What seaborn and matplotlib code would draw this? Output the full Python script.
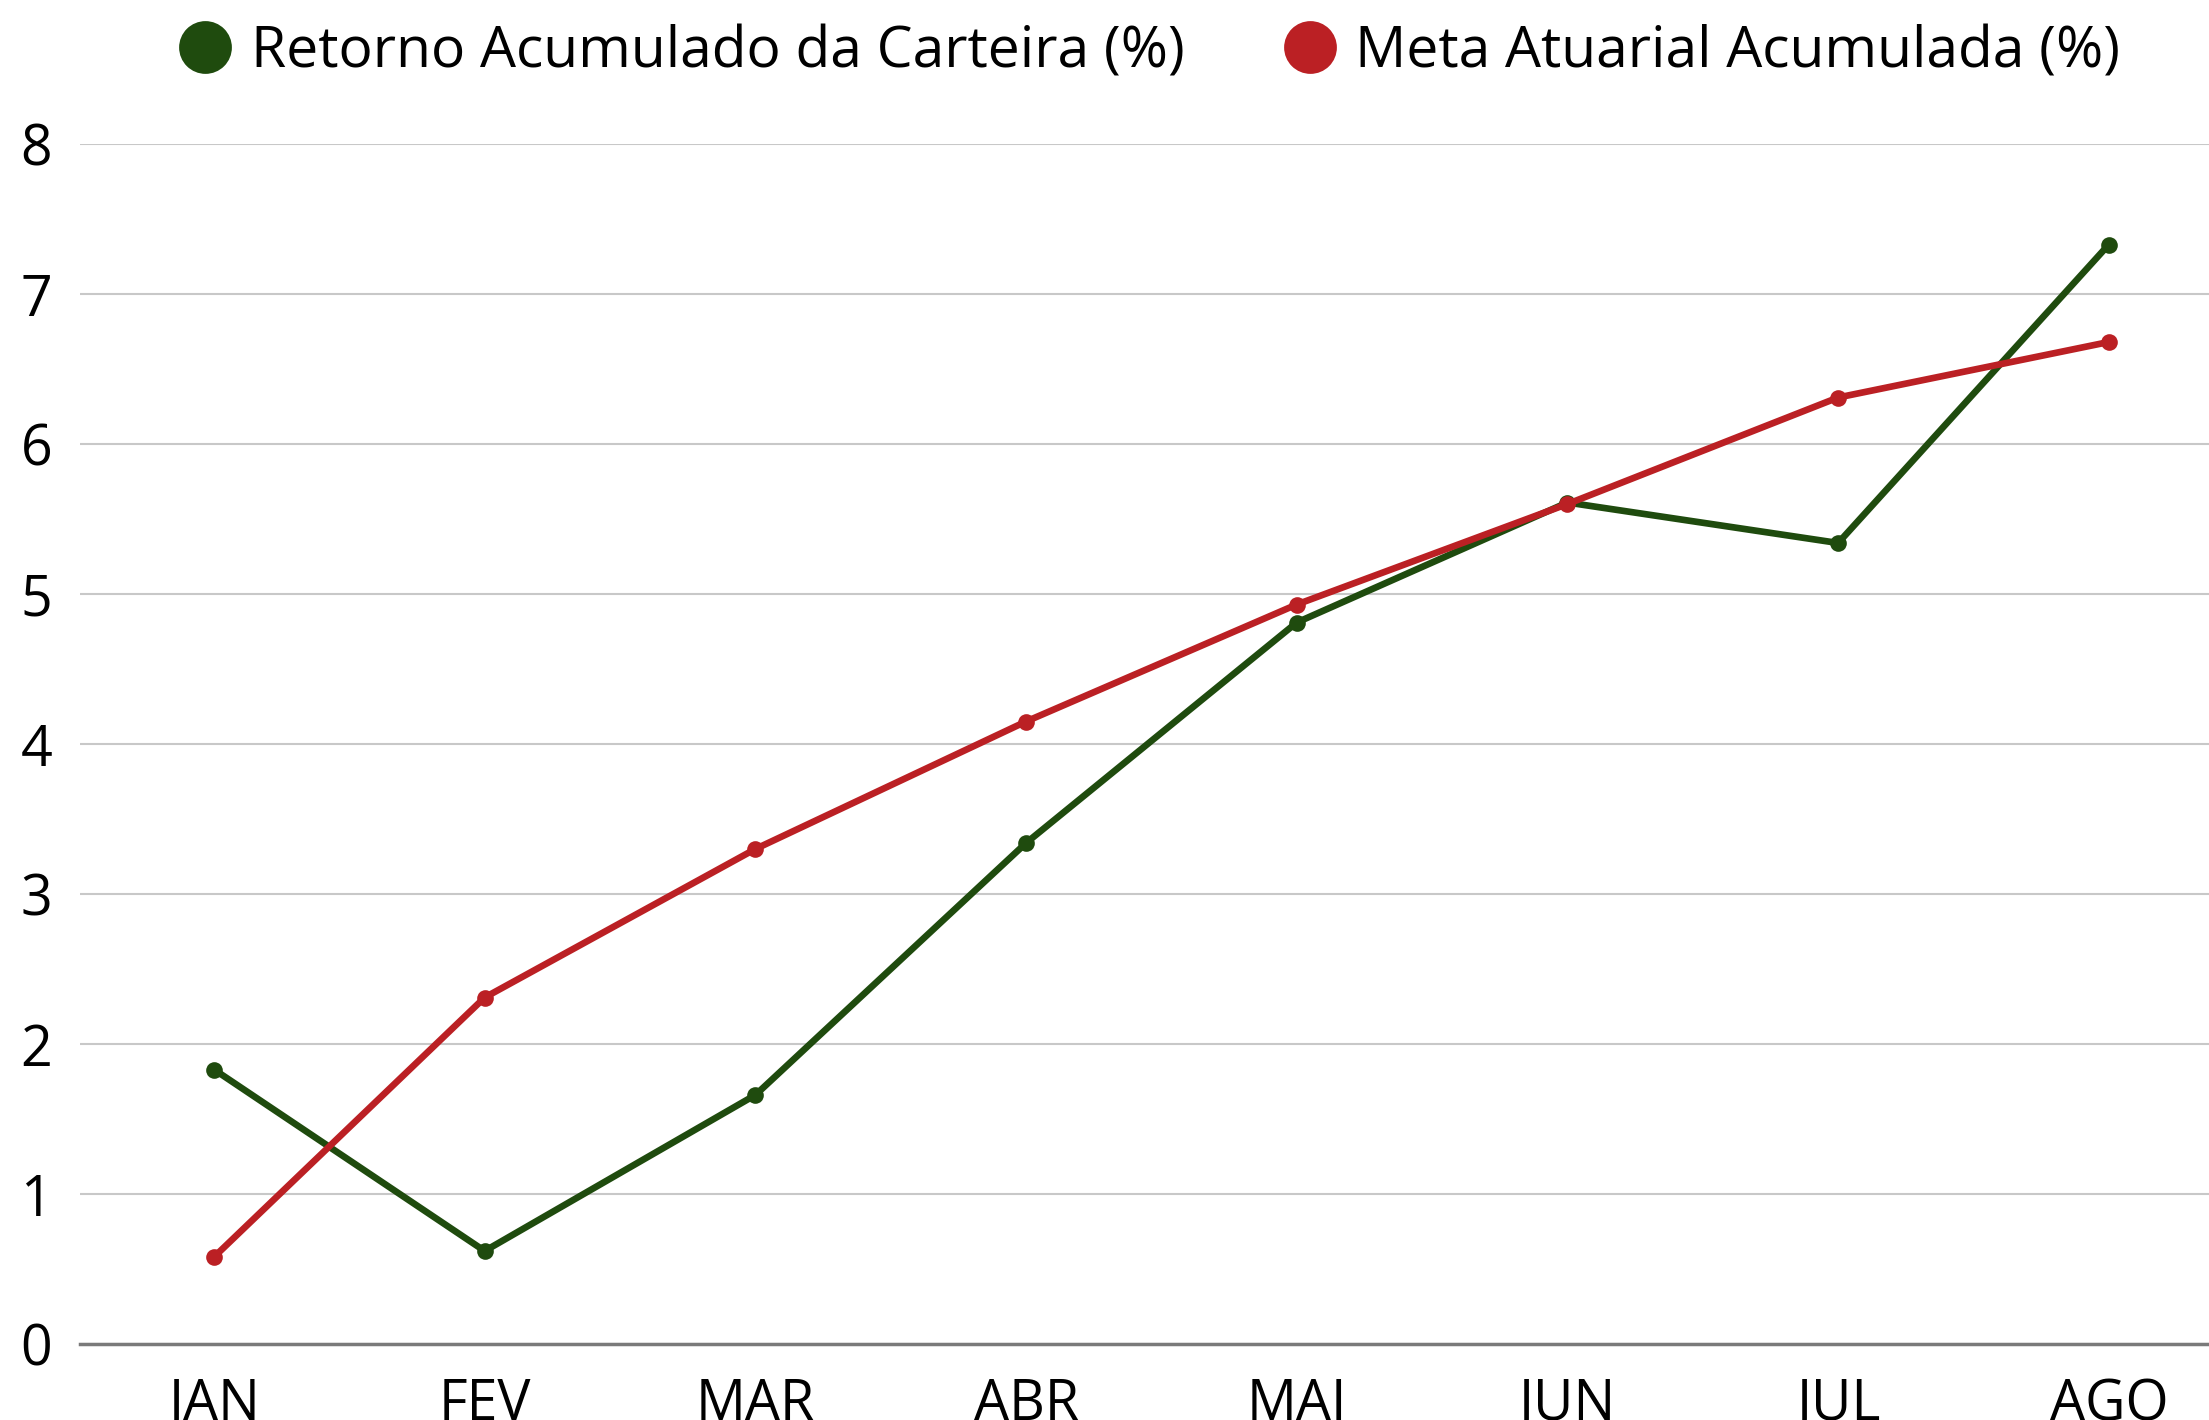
import matplotlib
matplotlib.use("Agg")
import matplotlib.pyplot as plt
from matplotlib.lines import Line2D
import pandas as pd
import seaborn as sns

meses = ["JAN", "FEV", "MAR", "ABR", "MAI", "JUN", "JUL", "AGO"]
retorno_carteira = [1.83, 0.62, 1.66, 3.34, 4.81, 5.61, 5.34, 7.33]
meta_atuarial = [0.58, 2.31, 3.30, 4.15, 4.93, 5.60, 6.31, 6.68]

serie_retorno = "Retorno Acumulado da Carteira (%)"
serie_meta = "Meta Atuarial Acumulada (%)"
cores = {serie_retorno: "#1f4b0e", serie_meta: "#bb2024"}

df = pd.DataFrame({
    "mes": meses * 2,
    "pos": list(range(len(meses))) * 2,
    "valor": retorno_carteira + meta_atuarial,
    "serie": [serie_retorno] * len(meses) + [serie_meta] * len(meses),
})

sns.set_theme(style="white")
plt.rcParams["font.family"] = ["Open Sans", "DejaVu Sans"]
plt.rcParams["text.color"] = "black"

fig = plt.figure(figsize=(22.09, 14.2), dpi=100)
ax = fig.add_axes([80 / 2209, 1 - 1344 / 1420, 1 - 80 / 2209, (1344 - 144) / 1420])

sns.lineplot(data=df, x="pos", y="valor", hue="serie", palette=cores,
             marker="o", markersize=12, markeredgewidth=0, linewidth=4.8,
             legend=False, ax=ax)

ax.set_xlim(-0.495, 7.37)
ax.set_ylim(0, 8)
ax.set_xticks(range(len(meses)))
ax.set_xticklabels(meses)
ax.set_yticks(range(0, 9))
ax.set_xlabel("")
ax.set_ylabel("")
ax.yaxis.grid(True, color="#c8c8c8", linewidth=1.5)
ax.set_axisbelow(True)
for lado in ["top", "right", "left"]:
    ax.spines[lado].set_visible(False)
ax.spines["bottom"].set_color("#7a7a7a")
ax.spines["bottom"].set_linewidth(2.5)
ax.tick_params(axis="both", length=0, labelsize=40, colors="black")
ax.tick_params(axis="y", pad=20)
ax.tick_params(axis="x", pad=24)

handles = [Line2D([], [], marker="o", linestyle="", markersize=38,
                  markerfacecolor=cores[s], markeredgewidth=0, label=s)
           for s in [serie_retorno, serie_meta]]
fig.legend(handles=handles, loc="center", bbox_to_anchor=(0.52, 0.963),
           ncol=2, frameon=False, fontsize=41, handletextpad=0.3,
           columnspacing=1.7, handlelength=1.0)

fig.savefig("out.png", dpi=100)
